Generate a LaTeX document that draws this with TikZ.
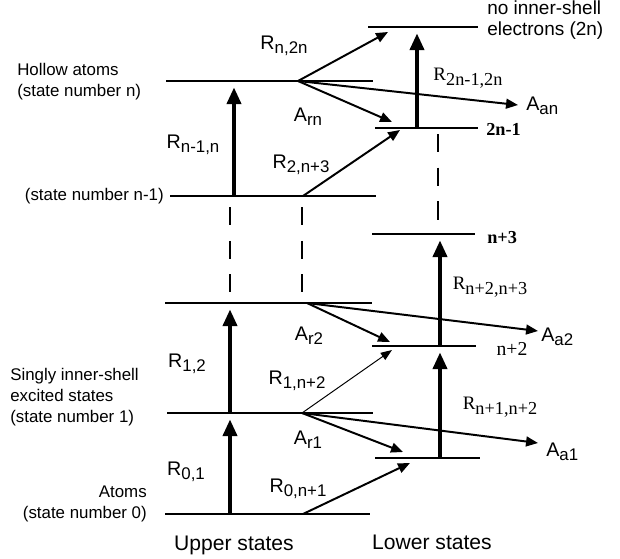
\documentclass[tikz,border=0pt]{standalone}
\usepackage{fontspec}
\setmainfont{Liberation Sans}
\newfontfamily\timesfont{Liberation Serif}
\usetikzlibrary{arrows.meta}
% subscript a little lowered, nearly full size
\newcommand{\lsub}[1]{\raisebox{-3pt}{\fontsize{12}{14}\selectfont #1}}
\newcommand{\tsub}[1]{\raisebox{-3.3pt}{\fontsize{13}{15}\selectfont #1}}

\begin{document}
\begin{tikzpicture}[
    x=0.025cm, y=-0.025cm,
    every node/.style={font=\fontsize{12}{15}\selectfont, inner sep=0pt},
    rate/.style={font=\fontsize{14}{16}\selectfont},
    lvl/.style={line width=0.8pt},
    lvlThick/.style={line width=1.3pt},
    pump/.style={-{Triangle[length=12pt, width=10pt]}, line width=2.8pt, shorten >=4.5pt},
    decay/.style={-{Triangle[length=8.5pt, width=7pt]}, line width=1.4pt},
    decayThin/.style={-{Triangle[length=8pt, width=6pt]}, line width=0.7pt},
    gap/.style={line width=0.8pt, dash pattern=on 13pt off 11pt},
    tlbl/.style={font=\timesfont\fontsize{13.5}{15}\selectfont},
    tnum/.style={font=\timesfont\bfseries\fontsize{13}{15}\selectfont},
    side/.style={font=\fontsize{15}{17}\selectfont},
]
\useasboundingbox (0,0) rectangle (620,559);
% Upper states: levels 0, 1, 2, n-1, n
\coordinate (u0w) at (165,514);  \coordinate (u0e) at (370,514);
\coordinate (u1w) at (167,413);  \coordinate (u1e) at (373,413);
\coordinate (u2w) at (165,303);  \coordinate (u2e) at (372,303);
\coordinate (umw) at (170,196);  \coordinate (ume) at (376,196);
\coordinate (unw) at (166,81);   \coordinate (une) at (373,81);
% Lower states: n+1, n+2, n+3, 2n-1, 2n
\coordinate (l1w) at (375,458);  \coordinate (l1e) at (480,458);
\coordinate (l2w) at (372,346);  \coordinate (l2e) at (476,346);
\coordinate (l3w) at (372,234);  \coordinate (l3e) at (475,234);
\coordinate (lmw) at (375,128);  \coordinate (lme) at (478,128);
\coordinate (lnw) at (368,27);   \coordinate (lne) at (478,27);
\draw[lvl]      (u0w) -- (u0e);
\draw[lvlThick] (u1w) -- (u1e);
\draw[lvl]      (u2w) -- (u2e);
\draw[lvl]      (umw) -- (ume);
\draw[lvlThick] (unw) -- (une);
\draw[lvlThick] (l1w) -- (l1e);
\draw[lvl]      (l2w) -- (l2e);
\draw[lvl]      (l3w) -- (l3e);
\draw[lvlThick] (lmw) -- (lme);
\draw[lvl]      (lnw) -- (lne);

% arrow ends
\coordinate (p01a) at (230,514);  \coordinate (p01b) at (230,413);
\coordinate (p12b) at (230,303);
\coordinate (pmna) at (234,196);  \coordinate (pmnb) at (234,81);
\coordinate (q12a) at (440,458);  \coordinate (q12b) at (440,346);
\coordinate (q23b) at (440,234);
\coordinate (qmna) at (417,128);  \coordinate (qmnb) at (417,27);
\coordinate (sn) at (298,81);   \coordinate (sm) at (303,196);
\coordinate (s2) at (307,303);  \coordinate (s1) at (302,413);
\coordinate (s0) at (303,514);
\coordinate (tRn) at (388,32);  \coordinate (tArn) at (392,122);
\coordinate (tAan) at (518,105); \coordinate (tR2) at (400,130);
\coordinate (tAr2) at (390,342); \coordinate (tAa2) at (538,331);
\coordinate (tR1) at (392,350);  \coordinate (tAr1) at (403,452);
\coordinate (tAa1) at (538,443); \coordinate (tR0) at (410,463);

% dashed gaps
\coordinate (g1a) at (230,207); \coordinate (g1b) at (230,292);
\coordinate (g2a) at (302,207); \coordinate (g2b) at (302,292);
\coordinate (g3a) at (438,134); \coordinate (g3b) at (438,228);
\draw[gap] (g1a) -- (g1b);
\draw[gap] (g2a) -- (g2b);
\draw[gap] (g3a) -- (g3b);

% vertical pumping
\draw[pump] (p01a) -- (p01b);
\draw[pump] (p01b) -- (p12b);
\draw[pump] (pmna) -- (pmnb);
\draw[pump] (q12a) -- (q12b);
\draw[pump] (q12b) -- (q23b);
\draw[pump] (qmna) -- (qmnb);
% diagonal
\draw[decay] (sn) -- (tRn);
\draw[decay] (sn) -- (tArn);
\draw[decay] (sn) -- (tAan);
\draw[decay] (sm) -- (tR2);
\draw[decay] (s2) -- (tAr2);
\draw[decay] (s2) -- (tAa2);
\draw[decayThin] (s1) -- (tR1);
\draw[decay] (s1) -- (tAr1);
\draw[decay] (s1) -- (tAa1);
\draw[decay] (s0) -- (tR0);

% labels
\node[align=left, anchor=west, font=\fontsize{13.5}{14.5}\selectfont] (top) at (487,20) {no inner-shell\\electrons (2n)};
\node[align=left, anchor=west]  (hollow) at (17,82)   {Hollow atoms\\(state number n)};
\node[anchor=east]              (nm1)    at (164,196) {(state number n-1)};
\node[align=left, anchor=west]  (singly) at (10,397)  {Singly inner-shell\\excited states\\(state number 1)};
\node[align=right, anchor=east] (atoms)  at (147,504) {Atoms\\(state number 0)};
\node[side] (upper) at (234,545) {Upper states};
\node[side] (lower) at (432,542) {Lower states};

\node[rate] (lRn2n) at (284,46)  {R\lsub{n,2n}};
\node[rate] (lArn)  at (308,117) {A\lsub{rn}};
\node[rate] (lRmn)  at (193,145) {R\lsub{n-1,n}};
\node[rate] (lR2n3) at (301,165) {R\lsub{2,n+3}};
\node[rate, anchor=west] (lAan) at (526,106) {A\lsub{an}};
\node[rate] (lAr2)  at (309,336) {A\lsub{r2}};
\node[rate, anchor=west] (lAa2) at (541,337) {A\lsub{a2}};
\node[rate] (lR12)  at (187,364) {R\lsub{1,2}};
\node[rate] (lR1n2) at (297,381) {R\lsub{1,n+2}};
\node[rate] (lAr1)  at (308,440) {A\lsub{r1}};
\node[rate, anchor=west] (lAa1) at (546,452) {A\lsub{a1}};
\node[rate] (lR01)  at (186,472) {R\lsub{0,1}};
\node[rate] (lR0n1) at (298,489) {R\lsub{0,n+1}};

\node[tlbl] (lRq2n)  at (468,78)  {R\tsub{2n-1,2n}};
\node[tnum, anchor=west] (n2m1) at (486,129) {2n-1};
\node[tnum, anchor=west] (n3)   at (487,238) {n+3};
\node[tlbl] (lRq23)  at (490,287) {R\tsub{n+2,n+3}};
\node[tlbl, font=\timesfont\fontsize{14}{16}\selectfont] (n2) at (512,349) {n+2};
\node[tlbl] (lRq12)  at (500,407) {R\tsub{n+1,n+2}};
\end{tikzpicture}
\end{document}
